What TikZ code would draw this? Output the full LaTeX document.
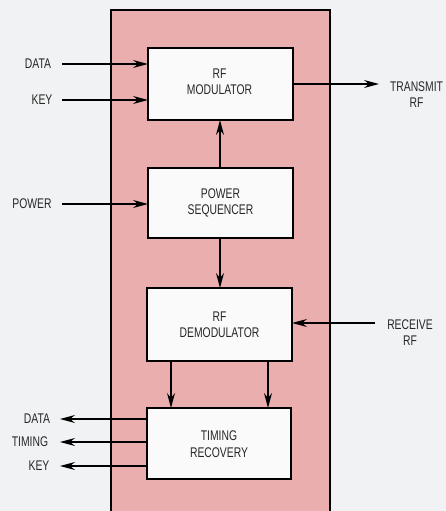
\documentclass[tikz,border=0pt]{standalone}
\usepackage{fontspec}
\setmainfont[FakeStretch=0.74]{Liberation Sans}
\usetikzlibrary{arrows.meta}
\definecolor{bgc}{HTML}{F1F2F3}
\definecolor{pinkc}{HTML}{EBAEAE}
\definecolor{boxc}{HTML}{FAFAFA}
\begin{document}
\begin{tikzpicture}[x=1pt,y=-1pt,
  blk/.style={draw=black,line width=1.8pt,fill=boxc},
  lbl/.style={font=\fontsize{14}{16.5}\selectfont,align=center,inner sep=0pt,text=black!85},
  arr/.style={line width=1.1pt,-{Stealth[length=15pt,width=8pt,inset=5pt]}}]
\fill[bgc] (0,0) rectangle (446,511);
\useasboundingbox (0,0) rectangle (446,511);
\draw[fill=pinkc,line width=1.5pt] (111,512) -- (111,10) -- (330,10) -- (330,512);
% blocks
\draw[blk] (148,48) rectangle (293,120);
\node[lbl] (mod) at (219.5,82) {RF\\MODULATOR};
\draw[blk] (148,168) rectangle (293,238);
\node[lbl] (seq) at (220.5,203) {POWER\\SEQUENCER};
\draw[blk] (147,288) rectangle (292,361);
\node[lbl] (dem) at (219.5,324.5) {RF\\DEMODULATOR};
\draw[blk] (147,408) rectangle (291,479);
\node[lbl] (tim) at (219,444) {TIMING\\RECOVERY};
% boundary coordinates
\coordinate (modL1) at (148,64); \coordinate (modL2) at (148,100);
\coordinate (modR) at (293,84); \coordinate (modB) at (220,120);
\coordinate (seqT) at (220,168); \coordinate (seqB) at (220,238);
\coordinate (seqL) at (148,204);
\coordinate (demT) at (220,288); \coordinate (demR) at (292,322.5);
\coordinate (demB1) at (171,361); \coordinate (demB2) at (268,361);
\coordinate (timT1) at (171,408); \coordinate (timT2) at (268,408);
\coordinate (timL1) at (147,419); \coordinate (timL2) at (147,442);
\coordinate (timL3) at (147,466);
% outside labels
\node[lbl] (inData) at (38,64) {DATA};
\node[lbl] (inKey) at (42,100) {KEY};
\node[lbl] (inPow) at (32,204) {POWER};
\node[lbl] (tx) at (416.5,94.5) {TRANSMIT\\RF};
\node[lbl] (rx) at (410,332.5) {RECEIVE\\RF};
\node[lbl] (outData) at (37,419) {DATA};
\node[lbl] (outTim) at (30,442) {TIMING};
\node[lbl] (outKey) at (39,466) {KEY};
\coordinate (inDataE) at (62,64); \coordinate (inKeyE) at (62,100);
\coordinate (inPowE) at (62,204); \coordinate (txE) at (379,84);
\coordinate (rxE) at (375,323);
\coordinate (outDataE) at (60,419); \coordinate (outTimE) at (60,442);
\coordinate (outKeyE) at (60,466);
% connectors
\draw[arr] (inDataE) -- (modL1);
\draw[arr] (inKeyE) -- (modL2);
\draw[arr] (inPowE) -- (seqL);
\draw[arr] (modR) -- (txE);
\draw[arr] (seqT) -- (modB);
\draw[arr] (seqB) -- (demT);
\draw[arr] (rxE) -- (demR |- rxE);
\draw[arr] (demB1) -- (timT1);
\draw[arr] (demB2) -- (timT2);
\draw[arr] (timL1) -- (outDataE);
\draw[arr] (timL2) -- (outTimE);
\draw[arr] (timL3) -- (outKeyE);
\end{tikzpicture}
\end{document}
